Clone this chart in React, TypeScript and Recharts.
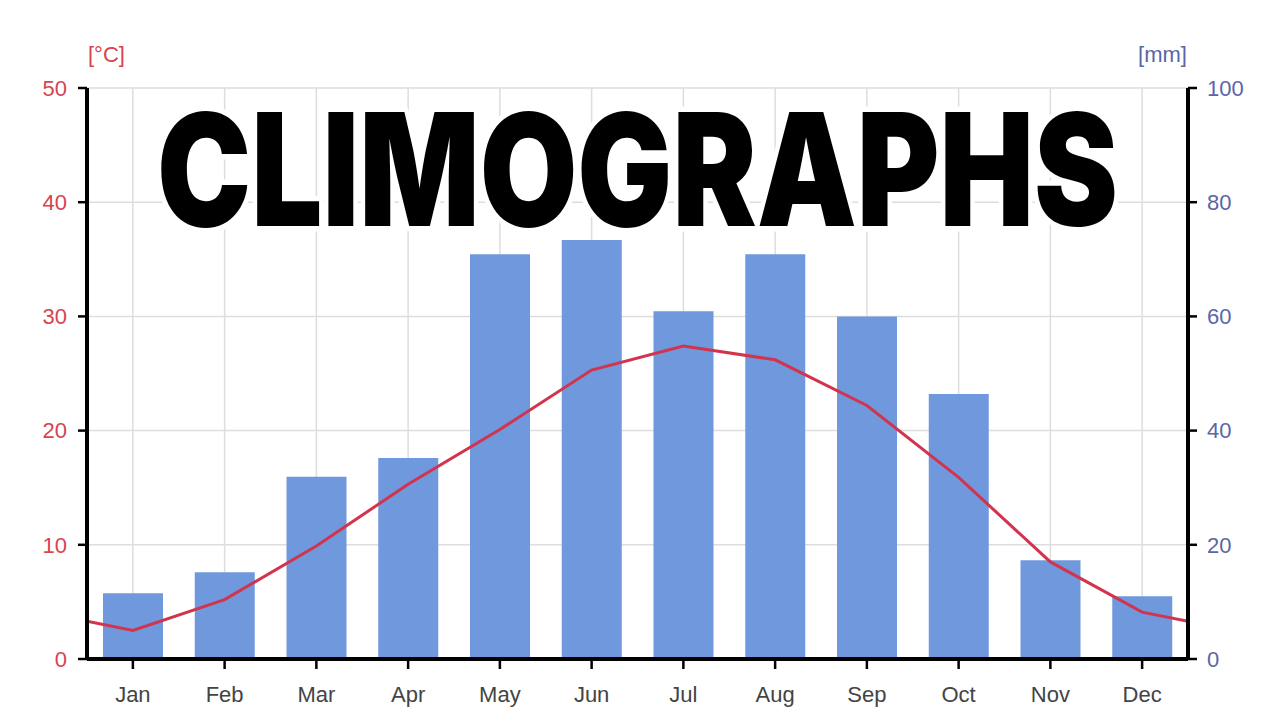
import React from "react";
import { ComposedChart, Bar, Line, XAxis, YAxis, CartesianGrid } from "recharts";

const months = ["Jan", "Feb", "Mar", "Apr", "May", "Jun", "Jul", "Aug", "Sep", "Oct", "Nov", "Dec"];
const precipitation = [11.5, 15.2, 31.9, 35.2, 70.9, 73.4, 60.9, 70.9, 60.0, 46.4, 17.3, 11.0];
const temperature = [2.5, 5.2, 9.9, 15.3, 20.1, 25.3, 27.4, 26.2, 22.2, 15.9, 8.5, 4.1];
const edgeTemperature = [3.3, 3.3];
const tempTicks = [0, 10, 20, 30, 40, 50];
const mmTicks = [0, 20, 40, 60, 80, 100];

const barData = months.map((m, i) => ({ month: m, mm: precipitation[i] }));
const lineData = [
  { x: 0.5, t: edgeTemperature[0] },
  ...temperature.map((t, i) => ({ x: i + 1, t })),
  { x: 12.5, t: edgeTemperature[1] },
];

const RED = "#d9434f";
const BLUE = "#5a66a6";

export default function App() {
  return (
    <div style={{ position: "absolute", left: 0, top: 0, width: 1280, height: 720, background: "#fff", fontFamily: "'Liberation Sans', Arial, sans-serif" }}>
      <ComposedChart width={1280} height={720} data={barData} margin={{ top: 88, right: 0, bottom: 0, left: 0 }}>
        <CartesianGrid xAxisId="cat" yAxisId="c" stroke="#dddddd" strokeWidth={1.5} />
        <XAxis
          xAxisId="cat"
          dataKey="month"
          type="category"
          height={61}
          axisLine={{ stroke: "#000", strokeWidth: 4 }}
          tickLine={{ stroke: "#000", strokeWidth: 2.5 }}
          tickSize={10}
          tickMargin={17}
          tick={{ fill: "#444", fontSize: 22 }}
        />
        <XAxis xAxisId="num" dataKey="x" type="number" domain={[0.5, 12.5]} allowDataOverflow hide />
        <YAxis
          yAxisId="c"
          orientation="left"
          width={87}
          domain={[0, 50]}
          ticks={tempTicks}
          interval={0}
          axisLine={{ stroke: "#000", strokeWidth: 4 }}
          tickLine={{ stroke: "#000", strokeWidth: 2.5 }}
          tickSize={9}
          tickMargin={11}
          tick={{ fill: RED, fontSize: 22 }}
        />
        <YAxis
          yAxisId="mm"
          orientation="right"
          width={92}
          domain={[0, 100]}
          ticks={mmTicks}
          interval={0}
          axisLine={{ stroke: "#000", strokeWidth: 4 }}
          tickLine={{ stroke: "#000", strokeWidth: 2.5 }}
          tickSize={9}
          tickMargin={10}
          tick={{ fill: BLUE, fontSize: 22 }}
        />
        <Bar xAxisId="cat" yAxisId="mm" dataKey="mm" fill="#7098dc" barSize={60} isAnimationActive={false} />
        <Line
          xAxisId="num"
          yAxisId="c"
          data={lineData}
          dataKey="t"
          type="linear"
          stroke="#d2334d"
          strokeWidth={3}
          dot={false}
          activeDot={false}
          isAnimationActive={false}
        />
      </ComposedChart>
      <svg width={1280} height={720} style={{ position: "absolute", left: 0, top: 0, pointerEvents: "none" }}>
        <text x={88} y={62} fill={RED} fontSize={22} fontFamily="'Liberation Sans', Arial, sans-serif">[°C]</text>
        <text x={1187} y={62} fill={BLUE} fontSize={22} textAnchor="end" fontFamily="'Liberation Sans', Arial, sans-serif">[mm]</text>
        <g transform="translate(157 226) scale(1 1.2)">
          <text
            x={0}
            y={0}
            fontSize={130}
            fontWeight={900}
            fontFamily="Inter, Lato, 'DejaVu Sans', sans-serif"
            fill="#000"
            stroke="#fff"
            strokeWidth={9}
            strokeLinejoin="round"
            paintOrder="stroke"
            textLength={961}
            lengthAdjust="spacingAndGlyphs"
          >
            CLIMOGRAPHS
          </text>
        </g>
      </svg>
    </div>
  );
}
